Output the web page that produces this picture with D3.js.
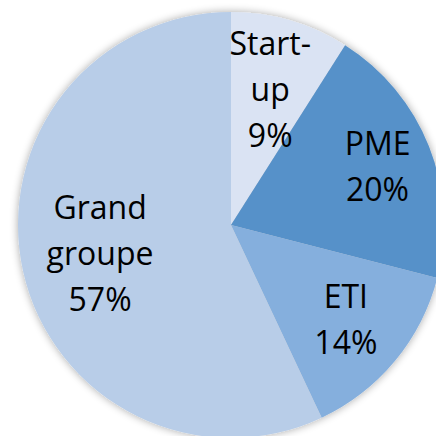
<!DOCTYPE html>
<html><head><meta charset="utf-8">
<script src="https://cdn.jsdelivr.net/npm/d3@7"></script>
<style>html,body{margin:0;padding:0;background:#fff;overflow:hidden}</style>
</head><body>
<svg id="c" width="436" height="436"></svg>
<script>
const categories = ["Start-up", "PME", "ETI", "Grand groupe"];
const values = [9, 20, 14, 57];
const labelLines = [["Start-", "up"], ["PME"], ["ETI"], ["Grand", "groupe"]];
const colors = ["#dae3f3", "#5791c9", "#85afdd", "#b8cde8"];

const svg = d3.select("#c");
const cx = 231, cy = 225, R = 213;
const defs = svg.append("defs");
const f = defs.append("filter").attr("id","sh").attr("x","-20%").attr("y","-20%").attr("width","140%").attr("height","140%");
f.append("feGaussianBlur").attr("in","SourceAlpha").attr("stdDeviation",4).attr("result","b");
f.append("feOffset").attr("in","b").attr("dx",0).attr("dy",0).attr("result","o");
f.append("feComponentTransfer").attr("in","o").attr("result","o2").append("feFuncA").attr("type","linear").attr("slope",0.35);
const m = f.append("feMerge"); m.append("feMergeNode").attr("in","o2"); m.append("feMergeNode").attr("in","SourceGraphic");

const data = categories.map((c,i)=>({cat:c, v:values[i], lines:labelLines[i], color:colors[i]}));
const pie = d3.pie().value(d=>d.v).sort(null);
const arc = d3.arc().innerRadius(0).outerRadius(R);
const g = svg.append("g").attr("transform",`translate(${cx},${cy})`);
g.append("g").attr("filter","url(#sh)").selectAll("path").data(pie(data)).join("path")
  .attr("d",arc).attr("fill",d=>d.data.color);

// label centers (fraction of radius) per slice
const labelR = [0.66, 0.74, 0.70, 0.63];
const lh = 46;
pie(data).forEach((d,i)=>{
  const a = (d.startAngle + d.endAngle)/2;
  const r = R*labelR[i];
  const x = Math.sin(a)*r, y = -Math.cos(a)*r;
  const lines = d.data.lines.concat([d3.format(".0%")(d.data.v/100)]);
  const n = lines.length;
  const t = g.append("text").attr("text-anchor","middle")
    .attr("font-family","'Open Sans', sans-serif").attr("font-size",32).attr("fill","#000");
  lines.forEach((L,j)=>{
    t.append("tspan").attr("x",x).attr("y", y + (j-(n-1)/2)*lh + 11).text(L);
  });
});
</script>
</body></html>
